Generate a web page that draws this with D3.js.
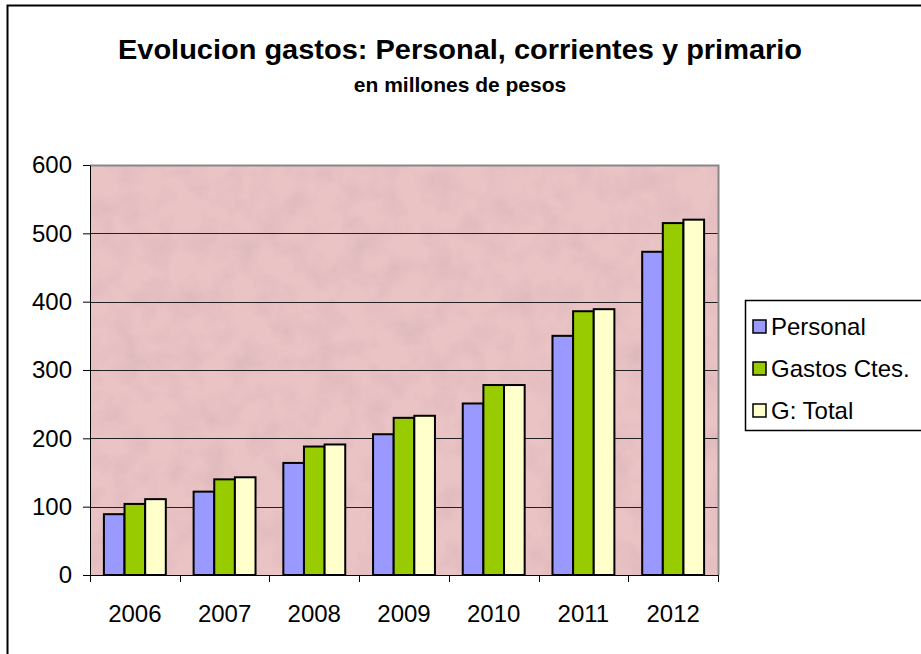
<!DOCTYPE html>
<html lang="es">
<head>
<meta charset="UTF-8">
<title>Evolucion gastos</title>
<script src="https://d3js.org/d3.v7.min.js"></script>
<style>
  body { margin: 0; background: #fff; }
  text { font-family: "Liberation Sans", Arial, sans-serif; }
</style>
</head>
<body>
<div id="chart"></div>
<script>
// data (millones de pesos)
var years = ["2006", "2007", "2008", "2009", "2010", "2011", "2012"];
var seriesNames = ["Personal", "Gastos Ctes.", "G: Total"];
var personal = [89, 122, 164, 206, 251, 350, 473];
var gastosCtes = [104, 140, 188, 230, 278, 386, 515];
var gTotal = [111, 143, 191, 233, 278, 389, 520];
var yTicks = [0, 100, 200, 300, 400, 500, 600];
var colors = ["#9999ff", "#99cc00", "#ffffcc"];

var W = 921, H = 654;
var plot = {left: 90, top: 165, right: 718, bottom: 575};

var svg = d3.select("#chart").append("svg")
  .attr("width", W).attr("height", H);

// marble-ish texture for the plot area
var defs = svg.append("defs");
var f = defs.append("filter").attr("id", "marble")
  .attr("x", 0).attr("y", 0).attr("width", 1).attr("height", 1);
f.append("feTurbulence").attr("type", "fractalNoise")
  .attr("baseFrequency", "0.035").attr("numOctaves", 4).attr("seed", 7);
f.append("feColorMatrix").attr("type", "matrix")
  .attr("values", "0 0 0 0 0.6  0 0 0 0 0.4  0 0 0 0 0.42  0 0 0 -1.6 1.0");

// outer chart border (runs off the right and bottom edge)
svg.append("rect")
  .attr("x", 7.5).attr("y", 5.5).attr("width", 940).attr("height", 680)
  .attr("fill", "#fff").attr("stroke", "#000").attr("stroke-width", 2);

svg.append("text")
  .attr("x", 460).attr("y", 59)
  .attr("text-anchor", "middle")
  .attr("font-size", 28).attr("font-weight", "bold")
  .attr("textLength", 684).attr("lengthAdjust", "spacingAndGlyphs")
  .text("Evolucion gastos: Personal, corrientes y primario");

svg.append("text")
  .attr("x", 460).attr("y", 92)
  .attr("text-anchor", "middle")
  .attr("font-size", 21).attr("font-weight", "bold")
  .text("en millones de pesos");

var x = d3.scaleBand()
  .domain(years)
  .range([plot.left, plot.right])
  .paddingInner(0.31)
  .paddingOuter(0.155);

var xs = d3.scaleBand()
  .domain(seriesNames)
  .range([0, x.bandwidth()]);

var y = d3.scaleLinear()
  .domain([0, 600])
  .range([plot.bottom, plot.top]);

// plot background
svg.append("rect")
  .attr("x", plot.left).attr("y", plot.top)
  .attr("width", plot.right - plot.left).attr("height", plot.bottom - plot.top)
  .attr("fill", "#eac3c5");
svg.append("rect")
  .attr("x", plot.left).attr("y", plot.top)
  .attr("width", plot.right - plot.left).attr("height", plot.bottom - plot.top)
  .attr("filter", "url(#marble)").attr("opacity", 0.45);

// gridlines
svg.append("g")
  .selectAll("line")
  .data(yTicks.filter(function(d) { return d > 0 && d < 600; }))
  .enter().append("line")
  .attr("x1", plot.left).attr("x2", plot.right)
  .attr("y1", function(d) { return Math.round(y(d)) + 0.5; })
  .attr("y2", function(d) { return Math.round(y(d)) + 0.5; })
  .attr("stroke", "#222").attr("stroke-width", 1);

// gray frame on top and right of plot area
svg.append("path")
  .attr("d", "M" + plot.left + "," + (plot.top + 0.5) + "H" + (plot.right + 0.5) + "V" + plot.bottom)
  .attr("fill", "none").attr("stroke", "#888").attr("stroke-width", 2);

// bars
var table = years.map(function(yr, i) {
  return {year: yr, values: [personal[i], gastosCtes[i], gTotal[i]]};
});

var groups = svg.append("g").selectAll("g")
  .data(table).enter().append("g")
  .attr("transform", function(d) { return "translate(" + x(d.year) + ",0)"; });

groups.selectAll("rect")
  .data(function(d) { return d.values.map(function(v, j) { return {name: seriesNames[j], value: v, j: j}; }); })
  .enter().append("rect")
  .attr("x", function(d) { return xs(d.name); })
  .attr("y", function(d) { return y(d.value); })
  .attr("width", xs.bandwidth())
  .attr("height", function(d) { return y(0) - y(d.value); })
  .attr("fill", function(d) { return colors[d.j]; })
  .attr("stroke", "#000").attr("stroke-width", 2);

// y axis
var yAxis = svg.append("g")
  .attr("transform", "translate(" + plot.left + ",0)")
  .call(d3.axisLeft(y).tickValues(yTicks).tickSize(7).tickPadding(11).tickSizeOuter(0));
yAxis.selectAll("text").attr("font-size", 24).attr("fill", "#000")
  .style("font-family", "'Liberation Sans', Arial, sans-serif");
yAxis.selectAll("line, path").attr("stroke", "#000");

// x axis: ticks sit between categories
var xAxis = svg.append("g")
  .attr("transform", "translate(0," + plot.bottom + ")");
xAxis.append("line")
  .attr("x1", plot.left - 7).attr("x2", plot.right)
  .attr("y1", 0.5).attr("y2", 0.5).attr("stroke", "#000");
var bounds = years.map(function(d) { return x(d) - x.step() * x.paddingInner() / 2; });
bounds.push(plot.right);
xAxis.selectAll(".tk").data(bounds).enter().append("line")
  .attr("x1", function(d) { return Math.round(d) + 0.5; })
  .attr("x2", function(d) { return Math.round(d) + 0.5; })
  .attr("y1", 0).attr("y2", 7).attr("stroke", "#000");
xAxis.selectAll(".lbl").data(years).enter().append("text")
  .attr("x", function(d) { return x(d) + x.bandwidth() / 2; })
  .attr("y", 47)
  .attr("font-size", 24)
  .attr("text-anchor", "middle")
  .text(function(d) { return d; });

// legend
var lg = svg.append("g").attr("transform", "translate(745,300)");
lg.append("rect")
  .attr("x", 0.5).attr("y", 0.5).attr("width", 200).attr("height", 130)
  .attr("fill", "#fff").attr("stroke", "#000").attr("stroke-width", 1.5);
var items = lg.selectAll(".item").data(seriesNames).enter().append("g")
  .attr("transform", function(d, i) { return "translate(8," + (26 + i * 42) + ")"; });
items.append("rect")
  .attr("x", 0).attr("y", -6).attr("width", 13).attr("height", 13)
  .attr("fill", function(d, i) { return colors[i]; })
  .attr("stroke", "#000").attr("stroke-width", 1.5);
items.append("text")
  .attr("x", 18).attr("y", 9)
  .attr("font-size", 24)
  .text(function(d) { return d; });
</script>
</body>
</html>
